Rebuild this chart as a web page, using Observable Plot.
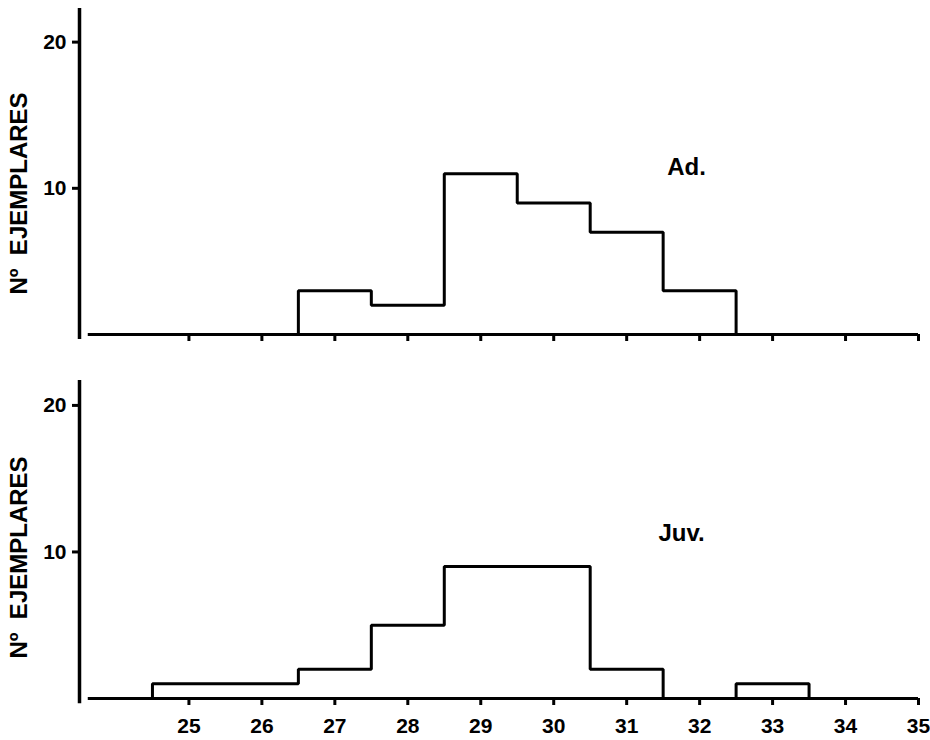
<!DOCTYPE html>
<html>
<head>
<meta charset="utf-8">
<script src="https://cdn.jsdelivr.net/npm/d3@7"></script>
<script src="https://cdn.jsdelivr.net/npm/@observablehq/plot@0.6"></script>
<style>
  html, body { margin: 0; padding: 0; background: #fff; }
  #chart svg { display: block; }
</style>
</head>
<body>
<div id="chart"></div>
<script>
// ---- data ----
const xTicks = [25, 26, 27, 28, 29, 30, 31, 32, 33, 34, 35];
const yTicks = [10, 20];
const yLabel = "Nº  EJEMPLARES";

// Adults (Ad.): class limits and counts
const adLabel = "Ad.";
const adLo = [26.5, 27.5, 28.5, 29.5, 30.5, 31.5];
const adHi = [27.5, 28.5, 29.5, 30.5, 31.5, 32.5];
const adCount = [3, 2, 11, 9, 7, 3];

// Juveniles (Juv.): class limits and counts
const juvLabel = "Juv.";
const juvLo = [24.5, 26.5, 27.5, 28.5, 30.5, 32.5];
const juvHi = [26.5, 27.5, 28.5, 30.5, 31.5, 33.5];
const juvCount = [1, 2, 5, 9, 2, 1];

const xDomain = [23.5, 35];
const xAxisStart = 23.62;

// build a histogram outline (step path) from class limits
function outline(lo, hi, n) {
  const pts = [];
  let g = 0;
  for (let i = 0; i < lo.length; i++) {
    if (i === 0 || lo[i] !== hi[i - 1]) {
      if (i > 0) { pts.push({x: hi[i - 1], y: 0, g}); g++; }
      pts.push({x: lo[i], y: 0, g});
    }
    pts.push({x: lo[i], y: n[i], g}, {x: hi[i], y: n[i], g});
  }
  pts.push({x: hi[hi.length - 1], y: 0, g});
  return pts;
}

function panel({height, marginTop, marginBottom, yMax, lo, hi, n, label, labelDx, labelDy, showXLabels, yLabelDy}) {
  return Plot.plot({
    width: 930,
    height,
    marginLeft: 79,
    marginRight: 12,
    marginTop,
    marginBottom,
    style: {fontFamily: "Liberation Sans, Arial, sans-serif", color: "#000", background: "#fff"},
    x: {domain: xDomain},
    y: {domain: [0, yMax]},
    marks: [
      Plot.ruleY([0], {x1: xAxisStart, x2: xDomain[1], stroke: "#000", strokeWidth: 3}),
      Plot.ruleX([xDomain[0]], {y1: -0.35, y2: yMax, stroke: "#000", strokeWidth: 3.5}),
      Plot.axisX(xTicks, {
        tickSize: 7, tickPadding: 13, strokeWidth: 3, label: null,
        tickFormat: showXLabels ? (d => String(d)) : (() => ""),
        fontSize: 21, fontWeight: 600
      }),
      Plot.axisY(yTicks, {
        anchor: "left", tickSize: 7, tickPadding: 6, strokeWidth: 3, label: null,
        fontSize: 21, fontWeight: "bold"
      }),
      Plot.line(outline(lo, hi, n), {x: "x", y: "y", z: "g", stroke: "#000", strokeWidth: 3, strokeLinejoin: "miter"}),
      Plot.text([label], {frameAnchor: "top-left", dx: labelDx, dy: labelDy, fontSize: 24, fontWeight: "bold", textAnchor: "middle"}),
      Plot.text([yLabel], {frameAnchor: "left", dx: -60, dy: yLabelDy, rotate: -90, fontSize: 24, fontWeight: "bold", textAnchor: "middle"})
    ]
  });
}

const chart = document.getElementById("chart");
chart.append(panel({
  height: 355, marginTop: 8, marginBottom: 21, yMax: 22.3,
  lo: adLo, hi: adHi, n: adCount, label: adLabel,
  labelDx: 607, labelDy: 149, showXLabels: false, yLabelDy: 22
}));
chart.append(panel({
  height: 385, marginTop: 25, marginBottom: 42, yMax: 21.7,
  lo: juvLo, hi: juvHi, n: juvCount, label: juvLabel,
  labelDx: 602, labelDy: 143, showXLabels: true, yLabelDy: 18
}));
</script>
</body>
</html>
